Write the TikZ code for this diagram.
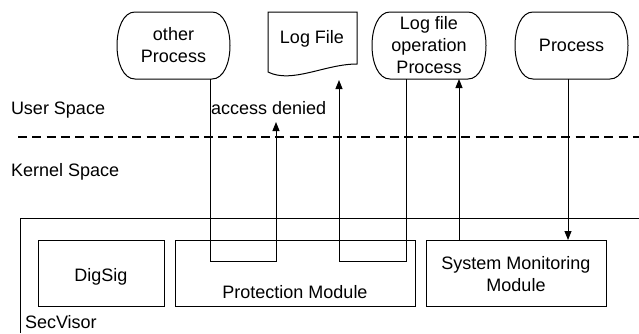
\documentclass[tikz,border=0pt]{standalone}
\usepackage{fontspec}
\setmainfont{Liberation Sans}
\usetikzlibrary{arrows.meta,calc}

% outline of a terminator (process) shape around an invisible node
\newcommand\termoutline[1]{%
  \draw[ln] ([xshift=18pt]#1.north west) -- ([xshift=-18pt]#1.north east)
    .. controls ([xshift=6pt]#1.north east) and ([xshift=6pt]#1.south east) .. ([xshift=-18pt]#1.south east)
    -- ([xshift=18pt]#1.south west)
    .. controls ([xshift=-6pt]#1.south west) and ([xshift=-6pt]#1.north west) .. cycle;}

\begin{document}
\begin{tikzpicture}[x=1pt,y=-1pt,
  every node/.style={font=\fontsize{18}{22}\selectfont, inner sep=0pt, outer sep=0pt},
  ln/.style={line width=1pt, draw=black},
  termnode/.style={minimum width=113pt, minimum height=67pt, align=center},
  modbox/.style={ln, rectangle, minimum height=66pt},
  flow/.style={line width=1pt, -{Triangle[length=9pt,width=7pt]}},
  divider/.style={line width=2pt, dash pattern=on 9pt off 5.3pt},
]
\useasboundingbox (0,0) rectangle (639,333);

% user-space processes
\node[termnode] (oth)  at (173.5,45.5) {other\\Process};
\node[termnode, minimum width=114pt] (lop) at (429,45.5) {Log file\\operation\\Process};
\node[termnode] (proc) at (571.5,45.5) {Process};
\termoutline{oth}
\termoutline{lop}
\termoutline{proc}

% log file (document shape)
\node[minimum width=89pt, minimum height=68pt] (logf) at (312.5,46) {};
\draw[ln] (logf.north west) -- (logf.north east) -- ([yshift=16pt]logf.south east)
  .. controls ([xshift=-32pt,yshift=16pt]logf.south east) and ([xshift=24pt,yshift=-4pt]logf.south west)
  .. ([yshift=8pt]logf.south west) -- cycle;
\node[anchor=base] (logftxt) at (312,43) {Log File};

% space labels and divider
\node[anchor=base west] (user) at (11,114.5) {User Space};
\node[anchor=base west] (acc) at (211,114.5) {access denied};
\node[anchor=base west] (kern) at (11,176) {Kernel Space};
\draw[divider] (18,137) -- (639,137);

% SecVisor frame and modules
\draw[ln] (639,218) -- (20,218) -- (20,333);
\node[anchor=base west] (secv) at (25,328) {SecVisor};
\node[modbox, minimum width=126pt] (dig)  at (101,273) {};
\node[modbox, minimum width=240pt] (prot) at (295,273) {};
\node[modbox, minimum width=180pt] (smm)  at (516,273) {};
\node[anchor=base] (digtxt)  at (101,281) {DigSig};
\node[anchor=base] (prottxt) at (295,298) {Protection Module};
\node[align=center] (smmtxt) at (516,274) {System Monitoring\\Module};

% connectors
\coordinate (deny) at (276,122);
\draw[flow] ([xshift=36.5pt]oth.south) |- ($(deny)+(0,139)$) -- (deny);
\draw[flow] ([xshift=-23pt]lop.south) |- ([xshift=26.5pt,yshift=-181pt]logf.south) -- ([xshift=26.5pt]logf.south);
\draw[flow] ([xshift=-57pt]smm.north) -- ([xshift=-57pt]smm.north |- lop.south);
\draw[flow] ([xshift=-3.5pt]proc.south) -- ([xshift=-3.5pt]proc.south |- smm.north);
\end{tikzpicture}
\end{document}
